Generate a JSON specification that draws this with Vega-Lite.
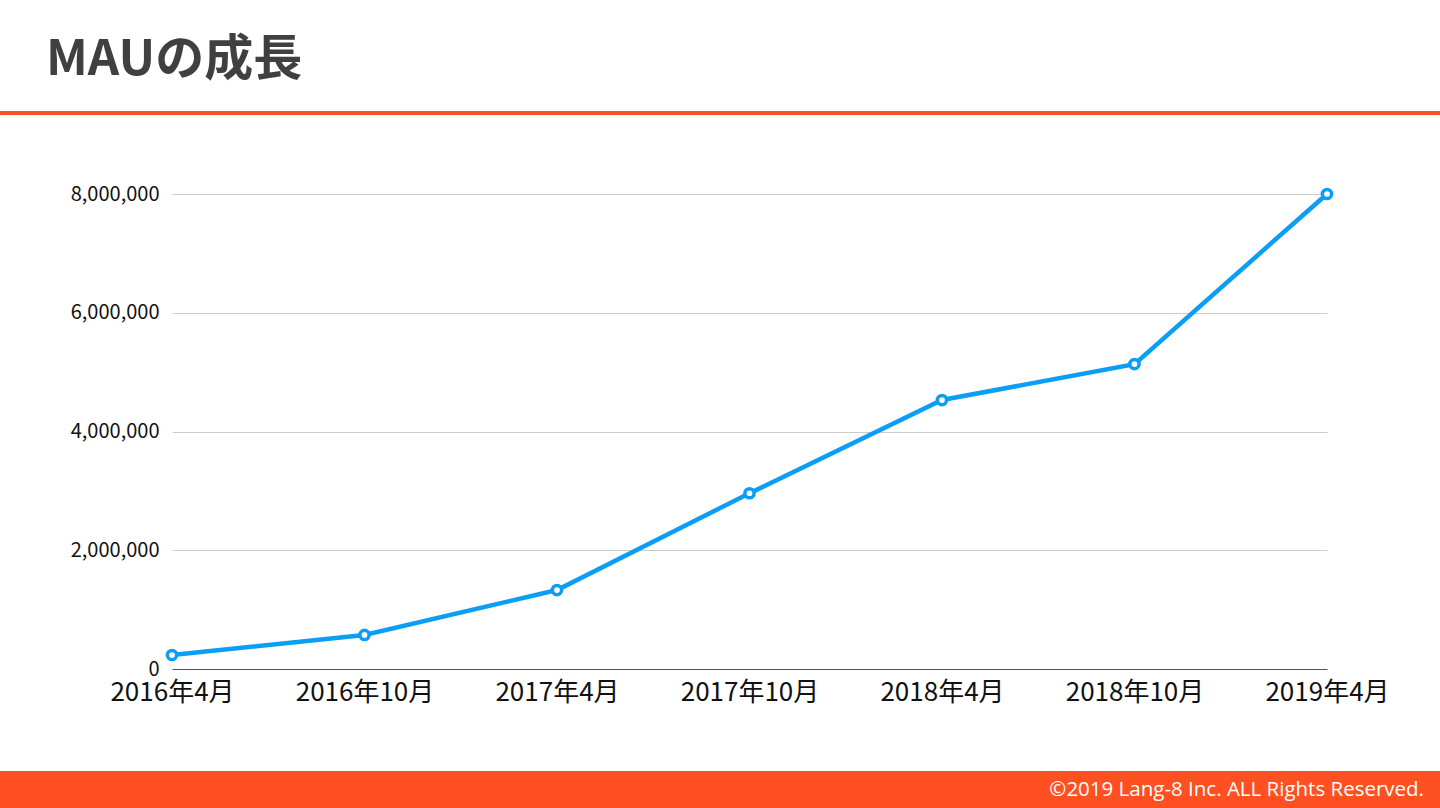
{
  "$schema": "https://vega.github.io/schema/vega-lite/v6.json",
  "background": "white",
  "autosize": {"type": "pad"},
  "padding": {"left": 0, "right": 0, "top": 36, "bottom": 0},
  "title": {
    "text": "MAUの成長",
    "anchor": "start",
    "frame": "bounds",
    "baseline": "alphabetic",
    "offset": -14,
    "dx": 46,
    "font": "Noto Sans CJK JP",
    "fontSize": 49,
    "fontWeight": "bold",
    "color": "#404040"
  },
  "config": {
    "view": {"stroke": null},
    "axis": {"labelFont": "Noto Sans CJK JP"}
  },
  "columns": 1,
  "align": "none",
  "spacing": {"row": 66},
  "concat": [
    {
      "width": 1440,
      "height": 4,
      "view": {"fill": "#FF5021", "stroke": null},
      "data": {"values": [{}]},
      "mark": {"type": "point", "opacity": 0},
      "encoding": {}
    },
    {
      "vconcat": [
        {
          "width": 1440,
          "height": 475,
          "data": {
            "values": [
              {"month": "2016年4月", "mau": 236000},
              {"month": "2016年10月", "mau": 573000},
              {"month": "2017年4月", "mau": 1330000},
              {"month": "2017年10月", "mau": 2960000},
              {"month": "2018年4月", "mau": 4530000},
              {"month": "2018年10月", "mau": 5135000},
              {"month": "2019年4月", "mau": 8000000}
            ]
          },
          "encoding": {
            "x": {
              "field": "month",
              "type": "ordinal",
              "sort": null,
              "scale": {"type": "point", "range": [172, 1327], "padding": 0},
              "axis": {
                "title": null,
                "labelAngle": 0,
                "labelFontSize": 26,
                "labelColor": "#111111",
                "labelPadding": 10,
                "ticks": false,
                "grid": false,
                "domainColor": "#555555",
                "domainWidth": 1.2,
                "minExtent": 32,
                "maxExtent": 32
              }
            },
            "y": {
              "field": "mau",
              "type": "quantitative",
              "scale": {"domain": [0, 8000000], "nice": false},
              "axis": {
                "title": null,
                "offset": -172,
                "values": [0, 2000000, 4000000, 6000000, 8000000],
                "format": ",.0f",
                "labelFontSize": 20,
                "labelColor": "#111111",
                "labelPadding": 13,
                "ticks": false,
                "domain": false,
                "gridColor": "#cccccc",
                "gridWidth": 1,
                "minExtent": 0,
                "maxExtent": 0
              }
            }
          },
          "layer": [
            {"mark": {"type": "line", "color": "#0A9EF5", "strokeWidth": 4.5}},
            {
              "mark": {
                "type": "point",
                "shape": "circle",
                "filled": false,
                "fill": "white",
                "fillOpacity": 1,
                "stroke": "#0A9EF5",
                "strokeWidth": 3.5,
                "opacity": 1,
                "size": 85
              }
            }
          ]
        },
        {
          "width": 1440,
          "height": 37,
          "view": {"fill": "#FF5021", "stroke": null},
          "title": {
            "text": "©2019 Lang-8 Inc. ALL Rights Reserved.",
            "orient": "bottom",
            "anchor": "end",
            "frame": "group",
            "baseline": "middle",
            "offset": -18.5,
            "dx": -16,
            "font": "Open Sans",
            "fontSize": 20.5,
            "fontWeight": "normal",
            "color": "white"
          },
          "data": {"values": [{}]},
          "mark": {"type": "point", "opacity": 0},
          "encoding": {}
        }
      ],
      "spacing": 66
    }
  ]
}
